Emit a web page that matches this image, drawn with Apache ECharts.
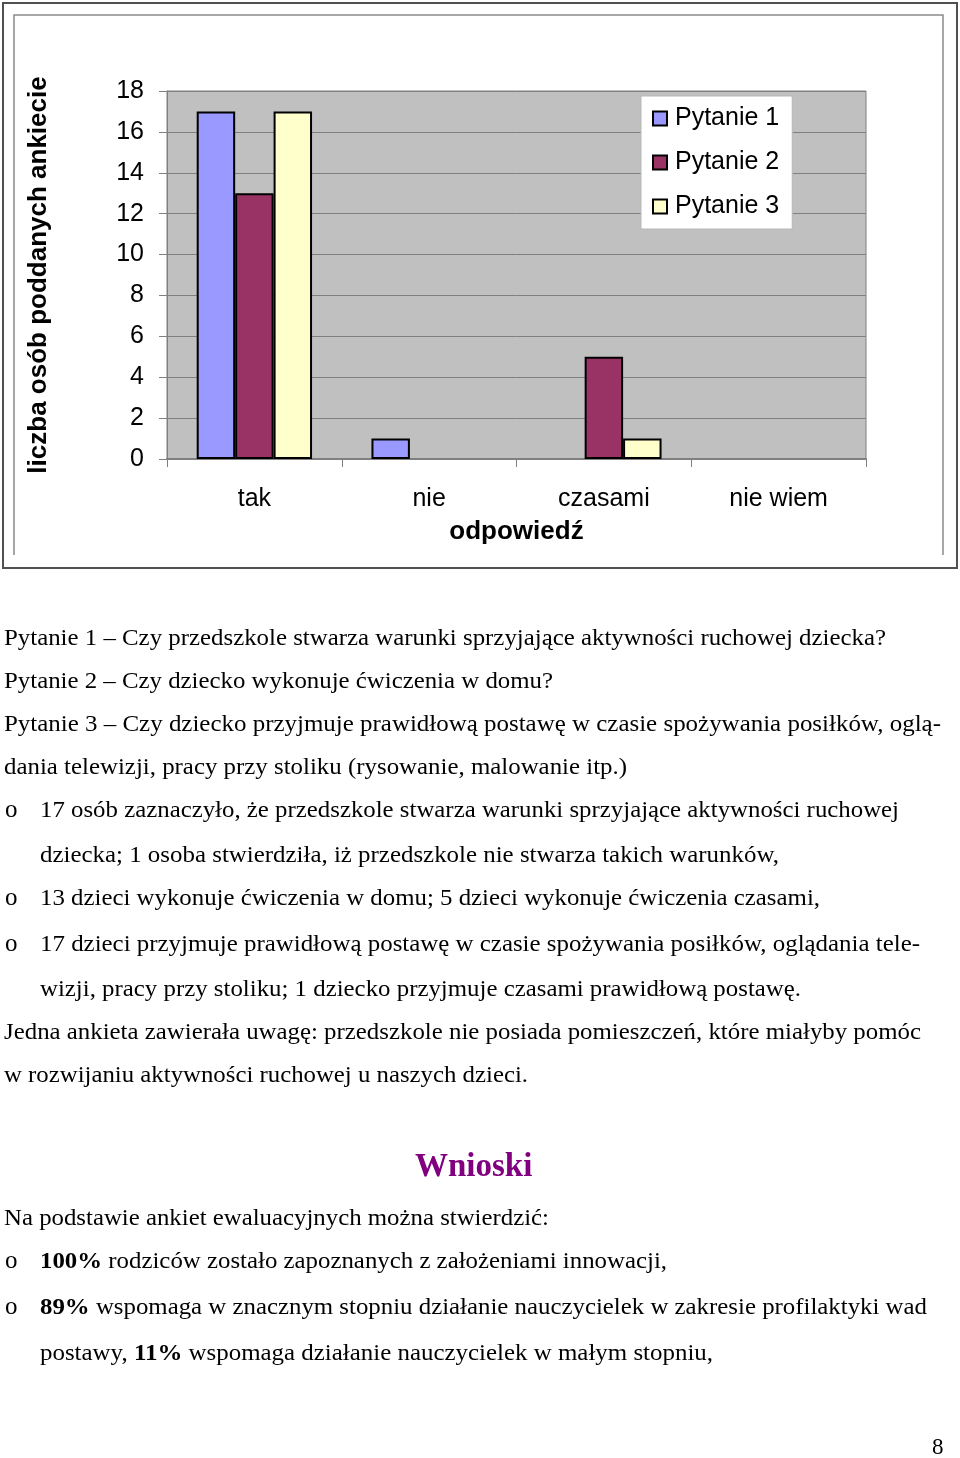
<!DOCTYPE html>
<html>
<head>
<meta charset="utf-8">
<script src="https://cdn.jsdelivr.net/npm/echarts@6/dist/echarts.min.js"></script>
<style>
html,body{margin:0;padding:0;background:#fff;}
#chart{position:absolute;left:0;top:0;width:960px;height:1458px;}
.ln{position:absolute;white-space:nowrap;font-family:"Liberation Serif","Times New Roman",serif;font-size:23px;line-height:30px;color:#000;transform-origin:0 50%;}
.bul{position:absolute;font-family:"Liberation Serif",serif;font-size:25px;line-height:30px;color:#000;}
</style>
</head>
<body>
<div id="chart"></div>
<div id="txt"></div>
<script>
// ---- data ----
const categories = ['tak', 'nie', 'czasami', 'nie wiem'];
const seriesNames = ['Pytanie 1', 'Pytanie 2', 'Pytanie 3'];
const pytanie1 = [17, 1, 0, 0];
const pytanie2 = [13, 0, 5, 0];
const pytanie3 = [17, 0, 1, 0];
const yTicks = [0, 2, 4, 6, 8, 10, 12, 14, 16, 18];
const colors = ['#9999FF', '#993366', '#FFFFCC'];

const chart = echarts.init(document.getElementById('chart'), null, {renderer: 'canvas'});
const mk = arr => arr.map(v => v === 0 ? {value: 0, itemStyle: {borderWidth: 0}} : v);
const seriesData = [pytanie1, pytanie2, pytanie3];
const sans = '"Liberation Sans", Arial, sans-serif';

chart.setOption({
  animation: false,
  backgroundColor: '#fff',
  textStyle: {fontFamily: sans},
  grid: {left: 167, top: 91, width: 699, height: 368, show: true, backgroundColor: '#C0C0C0', borderColor: '#808080', borderWidth: 1},
  legend: {
    orient: 'vertical', left: 641, top: 96,
    padding: [10, 13, 10, 11], itemGap: 19,
    itemWidth: 14, itemHeight: 14,
    backgroundColor: '#fff', borderColor: '#B8B8B8', borderWidth: 1,
    textStyle: {fontSize: 25, color: '#000', fontFamily: sans, padding: [0, 0, 0, 3]},
    data: seriesNames.map(n => ({name: n, icon: 'rect'}))
  },
  xAxis: {
    type: 'category', data: categories,
    name: 'odpowiedź', nameLocation: 'middle', nameGap: 60,
    nameTextStyle: {fontSize: 26, fontWeight: 'bold', color: '#000'},
    axisLine: {lineStyle: {color: '#808080', width: 2}},
    axisTick: {show: true, length: 8, lineStyle: {color: '#808080'}},
    axisLabel: {fontSize: 25, color: '#000', margin: 28}
  },
  yAxis: {
    type: 'value', min: yTicks[0], max: yTicks[yTicks.length - 1], interval: 2,
    name: 'liczba osób poddanych ankiecie', nameLocation: 'middle', nameGap: 115,
    nameTextStyle: {fontSize: 26, fontWeight: 'bold', color: '#000'},
    axisLine: {show: true, lineStyle: {color: '#808080', width: 1}},
    axisTick: {show: true, length: 8, lineStyle: {color: '#808080'}},
    axisLabel: {fontSize: 25, color: '#000', margin: 23},
    splitLine: {lineStyle: {color: '#808080', width: 1}}
  },
  series: seriesNames.map((n, i) => ({
    name: n, type: 'bar', data: mk(seriesData[i]),
    barGap: '0%', barCategoryGap: '34%',
    itemStyle: {color: colors[i], borderColor: '#000', borderWidth: 2}
  })),
  graphic: [
    {type: 'rect', shape: {x: 3, y: 3, width: 954, height: 565}, style: {fill: 'none', stroke: '#505050', lineWidth: 2}, z: -1},
    {type: 'polyline', shape: {points: [[14, 555], [14, 15], [943, 15], [943, 555]]}, style: {fill: 'none', stroke: '#8a8a8a', lineWidth: 1.5}, z: -1}
  ]
});

// ---- body text ----
const lines = [
  {y: 638, x: 4, w: 882, t: 'Pytanie 1 – Czy przedszkole stwarza warunki sprzyjające aktywności ruchowej dziecka?'},
  {y: 681, x: 4, w: 549, t: 'Pytanie 2 – Czy dziecko wykonuje ćwiczenia w domu?'},
  {y: 724, x: 4, w: 937, t: 'Pytanie 3 – Czy dziecko przyjmuje prawidłową postawę w czasie spożywania posiłków, oglą-'},
  {y: 767, x: 4, w: 623, t: 'dania telewizji, pracy przy stoliku (rysowanie, malowanie itp.)'},
  {y: 810, x: 40, w: 859, t: '17 osób zaznaczyło, że przedszkole stwarza warunki sprzyjające aktywności ruchowej', b: 1},
  {y: 855, x: 40, w: 739, t: 'dziecka; 1 osoba stwierdziła, iż przedszkole nie stwarza takich warunków,'},
  {y: 898, x: 40, w: 780, t: '13 dzieci wykonuje ćwiczenia w domu; 5 dzieci wykonuje ćwiczenia czasami,', b: 1},
  {y: 944, x: 40, w: 880, t: '17 dzieci przyjmuje prawidłową postawę w czasie spożywania posiłków, oglądania tele-', b: 1},
  {y: 989, x: 40, w: 761, t: 'wizji, pracy przy stoliku; 1 dziecko przyjmuje czasami prawidłową postawę.'},
  {y: 1032, x: 4, w: 917, t: 'Jedna ankieta zawierała uwagę: przedszkole nie posiada pomieszczeń, które miałyby pomóc'},
  {y: 1075, x: 4, w: 524, t: 'w rozwijaniu aktywności ruchowej u naszych dzieci.'},
  {y: 1218, x: 4, w: 545, t: 'Na podstawie ankiet ewaluacyjnych można stwierdzić:'},
  {y: 1261, x: 40, w: 627, t: '<b>100%</b> rodziców zostało zapoznanych z założeniami innowacji,', b: 1},
  {y: 1307, x: 40, w: 887, t: '<b>89%</b> wspomaga w znacznym stopniu działanie nauczycielek w zakresie profilaktyki wad', b: 1},
  {y: 1353, x: 40, w: 673, t: 'postawy, <b>11%</b> wspomaga działanie nauczycielek w małym stopniu,'}
];
const txt = document.getElementById('txt');
lines.forEach(l => {
  const d = document.createElement('div');
  d.className = 'ln';
  d.style.left = l.x + 'px';
  d.style.top = (l.y - 15) + 'px';
  d.innerHTML = l.t;
  txt.appendChild(d);
  const nat = d.getBoundingClientRect().width;
  d.style.transform = 'scaleX(' + (l.w / nat) + ')';
  if (l.b) {
    const o = document.createElement('div');
    o.className = 'bul';
    o.style.left = '5px';
    o.style.top = (l.y - 16) + 'px';
    o.textContent = 'o';
    txt.appendChild(o);
  }
});
const h = document.createElement('div');
h.style.cssText = 'position:absolute;left:415px;top:1145px;font-family:"Liberation Serif",serif;font-size:33px;line-height:40px;font-weight:bold;color:#800080;';
h.textContent = 'Wnioski';
txt.appendChild(h);
const p = document.createElement('div');
p.style.cssText = 'position:absolute;left:932px;top:1432px;font-family:"Liberation Serif",serif;font-size:23px;line-height:30px;color:#000;';
p.textContent = '8';
txt.appendChild(p);
</script>
</body>
</html>
